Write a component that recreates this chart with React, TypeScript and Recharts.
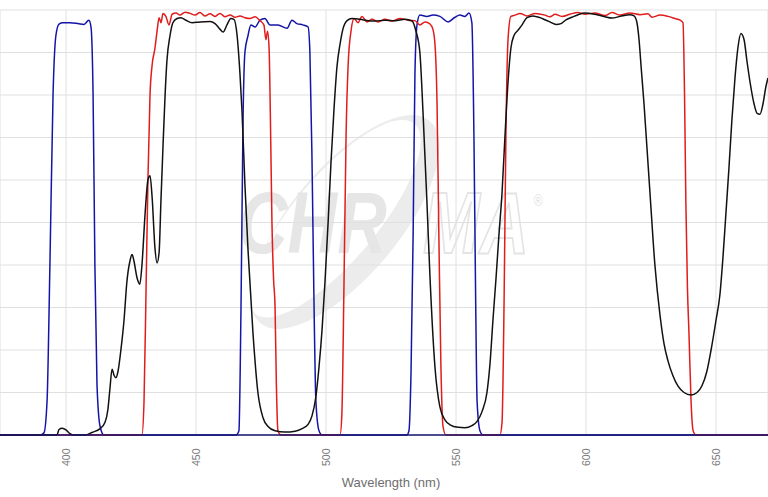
import React from 'react';
import { LineChart, Line, XAxis, YAxis, CartesianGrid } from 'recharts';

// Wavelength ticks (nm) and transmission grid (%)
const xTicks = [400, 450, 500, 550, 600, 650];
const yTicks = [0, 10, 20, 30, 40, 50, 60, 70, 80, 90, 100];
const xDomain: [number, number] = [374.6, 670];

// Blue series (excitation)
const blueNm = [
  374.6, 390.0, 391.5, 392.7, 393.8, 395.0, 396.1, 397.3, 398.8, 401.5, 404.6, 406.9, 408.8, 409.6, 410.4, 411.1, 411.9, 413.1, 414.6,
  465.4, 466.5, 467.3, 468.1, 468.8, 470.0, 471.1, 472.7, 474.6, 476.5, 478.4, 481.5, 485.0, 486.9, 488.8, 491.1, 493.1, 493.8, 494.6, 495.4, 496.1, 497.3, 498.5,
  531.1, 531.9, 532.7, 533.5, 534.2, 535.0, 536.1, 538.8, 541.1, 543.8, 546.9, 549.6, 551.5, 553.4, 555.0, 556.1, 556.9, 557.5, 558.1, 559.2, 560.4, 670,
];
const blueT = [
  0, 0, 0.5, 8, 40, 80, 94, 96.7, 97.0, 97.0, 96.8, 96.6, 97.6, 96, 80, 40, 12, 2, 0,
  0, 1, 30, 75, 90, 94, 96.5, 96.0, 97.6, 98.0, 96.5, 96.5, 95.7, 97.6, 96.8, 96.5, 96.0, 90, 65, 30, 8, 1, 0,
  0, 1, 15, 47, 85, 96.5, 98.8, 98.5, 98.8, 98.5, 97.2, 98.3, 98.8, 98.5, 99.3, 97, 70, 35, 8, 1, 0, 0,
];

// Red series (emission)
const redNm = [
  374.6, 429.2, 430.0, 430.8, 431.5, 432.3, 433.1, 434.2, 435.0, 435.8, 436.5, 437.3, 438.4, 439.6, 440.8, 442.3, 443.8, 445.8, 447.7,
  449.6, 451.5, 453.4, 455.4, 457.3, 459.2, 461.1, 463.1, 465.0, 466.9, 468.8, 470.8, 472.7, 474.6, 476.1, 476.9, 477.5, 478.1, 478.6,
  479.2, 479.8, 480.4, 480.9, 481.5, 482.7,
  505.4, 506.1, 506.9, 507.7, 508.5, 509.6, 510.8, 512.3, 513.8, 515.8, 517.7, 520.0, 522.7, 525.4, 528.5, 531.5, 534.2, 536.1, 538.1,
  540.0, 541.1, 541.9, 542.7, 543.4, 544.2, 545.0, 546.1,
  566.9, 567.7, 568.5, 569.2, 570.0, 571.1, 572.7, 574.6, 577.3, 580.4, 584.2, 586.1, 588.1, 590.8, 593.8, 596.9, 599.6, 603.4, 607.3,
  610.0, 613.1, 616.9, 620.8, 623.8, 625.4, 628.5, 631.5, 634.2, 636.2, 637.3, 637.9, 638.4, 639.0, 639.6, 640.4, 641.2, 642.3, 670,
];
const redT = [
  0, 0, 8, 35, 60, 80, 87, 91, 95, 98.2, 97, 99.2, 98.5, 96.5, 99, 99.3, 98.8, 99.5, 99.2,
  98.8, 99.4, 98.6, 99.1, 98.5, 99.2, 98.4, 98.8, 98.3, 98.6, 98.2, 98.0, 98.4, 97.5, 96.5, 93, 95, 91, 75,
  50, 37, 30, 12, 1, 0,
  0, 5, 35, 70, 87, 95, 98, 97, 98.5, 97.2, 97.8, 97.2, 97.8, 97.4, 98.0, 97.6, 97.5, 96.5, 97.2,
  96.7, 95.5, 92, 78, 47, 16, 2, 0,
  0, 3, 32, 71, 93, 98.5, 98.8, 99.2, 98.6, 99.2, 98.8, 98.4, 99.0, 98.5, 99.0, 99.4, 99.0, 99.3, 98.7,
  99.4, 98.8, 99.3, 98.9, 99.1, 98.3, 98.8, 98.5, 98.0, 97.6, 97.0, 80, 55, 35, 24, 8, 1, 0, 0,
];

// Black series (dichroic)
const blackNm = [
  374.6, 396.5, 397.3, 398.5, 400.0, 401.5, 402.7, 407.3, 410.0, 413.1, 415.0, 416.1, 416.9, 417.7, 418.5, 419.2, 420.0, 421.1, 422.3,
  423.4, 424.6, 425.4, 426.1, 427.3, 428.4, 429.2, 430.4, 431.5, 432.3, 433.1, 434.2, 435.0, 435.8, 436.5, 437.3, 438.1, 438.8, 440.0,
  441.1, 442.7, 444.2, 446.1, 448.5, 451.5, 455.4, 457.3, 459.2, 460.4, 461.9, 463.4, 464.6, 465.8, 466.9, 467.7, 468.8, 470.0, 471.9,
  473.8, 475.8, 477.7, 480.4, 484.2, 488.1, 490.8, 493.1, 494.6, 496.1, 497.3, 498.5, 499.6, 500.8, 501.9, 503.1, 504.2, 505.4, 506.5,
  508.1, 510.0, 512.3, 515.0, 518.8, 522.7, 526.5, 530.4, 533.1, 534.6, 536.1, 537.3, 538.8, 540.0, 541.9, 543.8, 545.8, 547.7, 550.8,
  553.4, 556.1, 558.1, 560.0, 561.9, 563.1, 564.2, 565.4, 566.5, 567.7, 568.8, 570.0, 571.1, 572.3, 573.8, 575.4, 577.3, 579.6, 582.3,
  584.2, 586.1, 588.5, 590.4, 592.3, 594.6, 596.9, 599.6, 603.4, 607.3, 610.0, 613.1, 616.9, 618.5, 619.6, 620.4, 621.2, 622.3, 623.4,
  624.6, 626.5, 628.5, 630.0, 631.5, 633.4, 635.4, 637.7, 640.4, 642.7, 644.6, 646.5, 648.1, 650.0, 651.5, 652.7, 653.8, 655.0, 656.1,
  657.3, 658.4, 659.6, 660.8, 661.9, 663.1, 664.6, 665.8, 666.9, 668.1, 669.2, 670.0,
];
const blackT = [
  0, 0, 1.3, 1.6, 1.2, 0.3, 0, 0, 0.6, 1.5, 3, 6, 11, 15.5, 14, 13.5, 15, 20, 27,
  36, 41, 42.5, 41, 37, 35.5, 40, 52, 60, 61, 56, 44, 40.5, 43, 55, 68, 80, 88, 94,
  97, 98, 98.2, 97.6, 97.0, 97.2, 97.3, 96.8, 95.5, 94.8, 96.5, 98.0, 97.8, 94, 85, 76, 59, 43.5, 24,
  10, 4, 2, 1, 0.7, 0.9, 1.5, 2.5, 4.5, 9, 16, 25, 36, 50, 64, 77, 86.6, 92, 95.5,
  97.5, 98, 97.9, 97.6, 97.4, 97.6, 97.5, 97.8, 97.4, 95, 90, 76, 55, 37, 16, 6.6, 3.5, 2.4, 1.8,
  1.7, 2.2, 3.2, 5.5, 10, 17, 27, 37, 47, 57, 70, 83, 91, 94, 95.2, 96.5, 98.2, 98.6, 98.2,
  97.7, 97.2, 96.6, 96.8, 97.7, 98.3, 98.9, 99.3, 99.0, 98.4, 98.1, 98.5, 98.9, 98.6, 97, 93, 86.6, 78, 68,
  57, 40, 28, 21.5, 17.5, 14, 11.5, 10, 9.4, 10, 11.6, 15, 20, 27, 33, 42, 52, 63, 74,
  84, 91, 94.5, 93, 88, 83, 78, 75.7, 75.5, 78, 82, 84,
];

const toData = (nm: number[], t: number[]) => nm.map((w, i) => ({ nm: w, t: t[i] }));
const blueData = toData(blueNm, blueT);
const redData = toData(redNm, redT);
const blackData = toData(blackNm, blackT);

const RotTick = (props: any) => {
  const { x, y, payload } = props;
  return (
    <text
      x={x}
      y={y}
      transform={`rotate(-90, ${x}, ${y})`}
      dx={-13.5}
      dy={3.6}
      textAnchor="end"
      fill="#7a7a7a"
      fontSize={10.5}
    >
      {payload.value}
    </text>
  );
};

const Watermark = () => (
  <svg width={768} height={497} style={{ position: 'absolute', left: 0, top: 0 }}>
    <g transform="rotate(-50 345 222)">
      <ellipse cx={345} cy={222} rx={132} ry={54} fill="#ececec" />
      <ellipse cx={341} cy={212} rx={124} ry={42} fill="#ffffff" />
    </g>
    <text
      transform="translate(238 253) scale(0.78 1)"
      x={0}
      y={0}
      fontSize={88}
      fontWeight="bold"
      fontStyle="italic"
      fill="#e6e6e6"
    >
      CHR
    </text>
    <text
      transform="translate(423 253) scale(0.775 1)"
      x={0}
      y={0}
      fontSize={88}
      fontWeight="bold"
      fontStyle="italic"
      fill="#ffffff"
      stroke="#e4e4e4"
      strokeWidth={2}
    >
      MA
      <tspan dx={6} dy={-47} fontSize={16} fontWeight="normal" fontStyle="normal" strokeWidth={0} fill="#e4e4e4">
        ®
      </tspan>
    </text>
  </svg>
);

export default function App() {
  return (
    <div
      style={{
        position: 'absolute',
        left: 0,
        top: 0,
        width: 768,
        height: 497,
        background: '#fff',
        fontFamily: '"Liberation Sans", Arial, sans-serif',
      }}
    >
      <Watermark />
      <div style={{ position: 'absolute', left: 0, top: 0 }}>
        <LineChart width={768} height={497} margin={{ top: 10, right: 0, bottom: 0, left: 0 }}>
          <CartesianGrid stroke="#e0e0e0" strokeWidth={1} />
          <XAxis
            type="number"
            dataKey="nm"
            domain={xDomain}
            allowDataOverflow
            ticks={xTicks}
            interval={0}
            height={62}
            axisLine={{ stroke: '#16166e', strokeWidth: 1.5 }}
            tickLine={false}
            tickSize={0}
            tickMargin={0}
            tick={<RotTick />}
            label={{
              value: 'Wavelength (nm)',
              position: 'insideBottom',
              offset: 10,
              dx: 7,
              fill: '#6e6e6e',
              fontSize: 13,
            }}
          />
          <YAxis hide type="number" domain={[0, 100]} ticks={yTicks} />
          <Line data={blueData} dataKey="t" type="monotone" stroke="#1414a8" strokeWidth={1.5} dot={false} activeDot={false} isAnimationActive={false} />
          <Line data={redData} dataKey="t" type="monotone" stroke="#e01c1c" strokeWidth={1.5} dot={false} activeDot={false} isAnimationActive={false} />
          <Line data={blackData} dataKey="t" type="monotone" stroke="#111111" strokeWidth={1.5} dot={false} activeDot={false} isAnimationActive={false} />
        </LineChart>
      </div>
    </div>
  );
}
